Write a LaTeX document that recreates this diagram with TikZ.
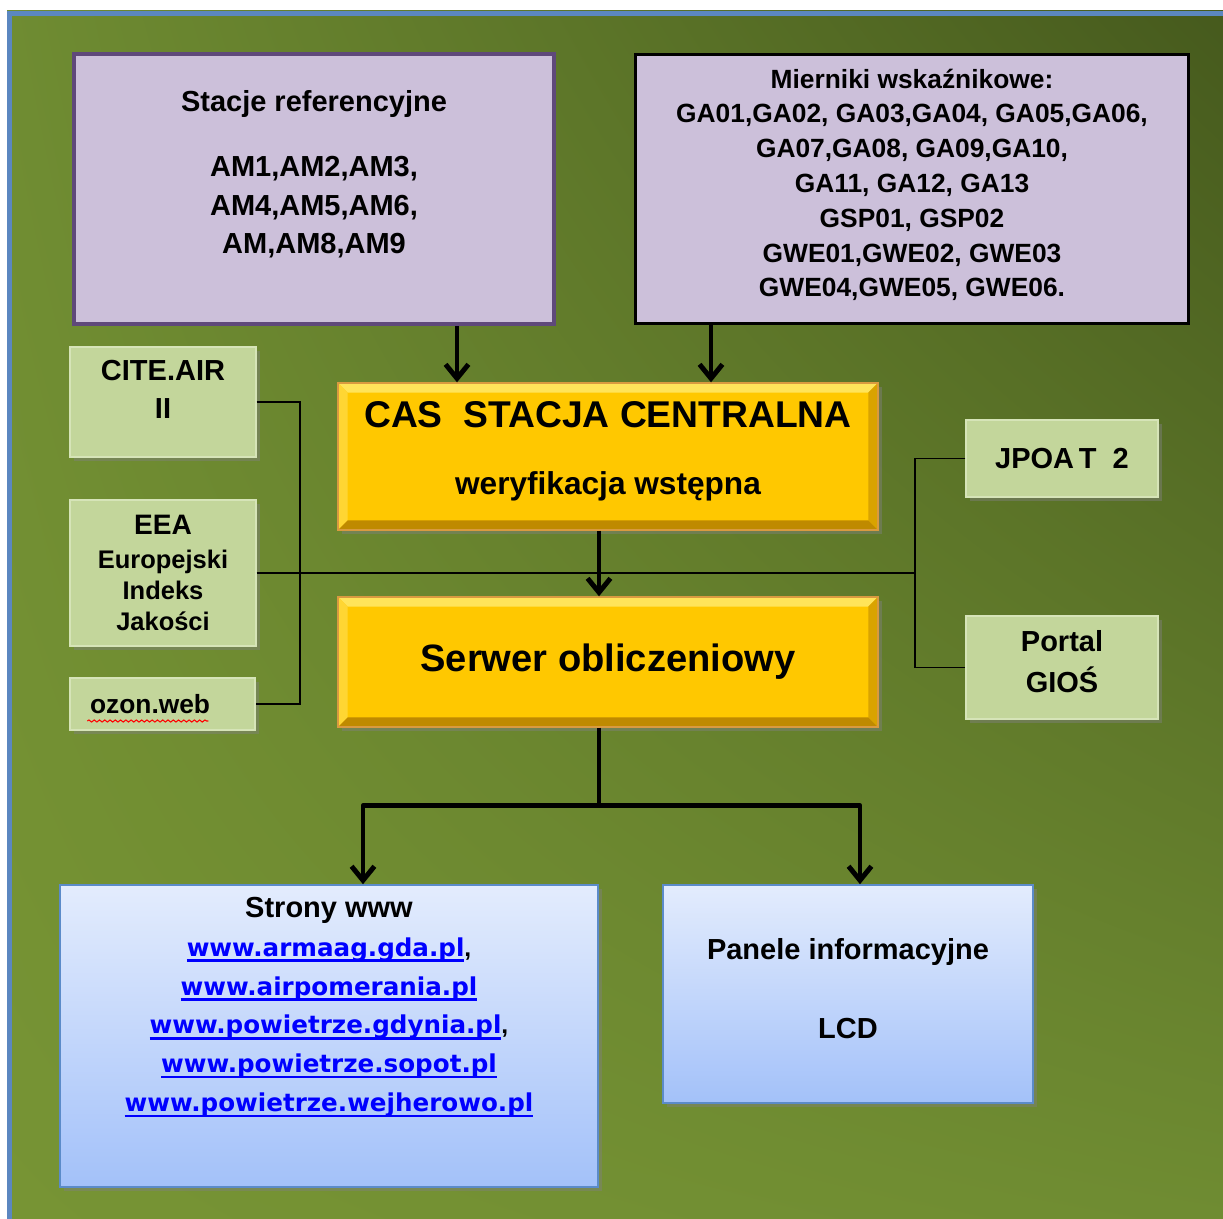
\documentclass[tikz,border=0pt]{standalone}
\usepackage{fontspec}
\setmainfont{Liberation Sans}
\newfontfamily\linkfont{DejaVu Sans}
\usetikzlibrary{positioning, arrows.meta, shadows, shadings, decorations.pathmorphing}

\definecolor{frameblue}{HTML}{5B87C0}
\definecolor{fieldlight}{HTML}{6F8C32}
\definecolor{fieldlow}{HTML}{779434}
\definecolor{fielddark}{HTML}{465A1D}
\definecolor{lavender}{HTML}{CCC0DA}
\definecolor{lavenderedge}{HTML}{5F497A}
\definecolor{sage}{HTML}{C3D69B}
\definecolor{sageedge}{HTML}{D6E4B8}
\definecolor{gold}{HTML}{FFC800}
\definecolor{goldedge}{HTML}{D99A40}
\definecolor{goldtop}{HTML}{FFE45A}
\definecolor{goldleft}{HTML}{FFD633}
\definecolor{goldright}{HTML}{D9A300}
\definecolor{goldbottom}{HTML}{BF8A00}
\definecolor{skytop}{HTML}{E3ECFD}
\definecolor{skybottom}{HTML}{A3C1F9}
\definecolor{skyedge}{HTML}{5B8BC9}
\definecolor{linkblue}{HTML}{0000FF}

\newcommand{\wwwlink}[1]{{\linkfont\bfseries\color{linkblue}\setbox0\hbox{#1}\rlap{\rule[-3.2pt]{\wd0}{1.5pt}}\box0}}

\begin{document}
\begin{tikzpicture}[
		x=0.02cm, y=-0.02cm,
		>={Straight Barb[length=8pt,width=13pt]},
		flow/.style={->, line width=2.8pt, line join=round},
		bus/.style={line width=1.1pt},
		listbox/.style={draw, fill=lavender, align=center, inner sep=0pt, font=\bfseries\fontsize{16.5}{22}\selectfont},
		sidebox/.style={draw=sageedge, line width=0.8pt, fill=sage, align=center, inner sep=0pt,
			font=\bfseries\fontsize{16.5}{21.5}\selectfont,
			drop shadow={opacity=0.45, shadow xshift=2.5pt, shadow yshift=-2.5pt}},
		corebox/.style={draw=goldedge, line width=0.8pt, fill=gold, align=center, inner sep=0pt,
			minimum width=10.8cm,
			drop shadow={opacity=0.45, shadow xshift=2.5pt, shadow yshift=-2.5pt},
			path picture={
				\def\pb{path picture bounding box}
				\fill[goldtop] (\pb.north west) -- (\pb.north east) -- ([xshift=-5.5pt,yshift=-5.5pt]\pb.north east) -- ([xshift=5.5pt,yshift=-5.5pt]\pb.north west) -- cycle;
				\fill[goldleft] (\pb.north west) -- ([xshift=5.5pt,yshift=-5.5pt]\pb.north west) -- ([xshift=5.5pt,yshift=5.5pt]\pb.south west) -- (\pb.south west) -- cycle;
				\fill[goldright] (\pb.north east) -- ([xshift=-5.5pt,yshift=-5.5pt]\pb.north east) -- ([xshift=-5.5pt,yshift=5.5pt]\pb.south east) -- (\pb.south east) -- cycle;
				\fill[goldbottom] (\pb.south west) -- ([xshift=5.5pt,yshift=5.5pt]\pb.south west) -- ([xshift=-5.5pt,yshift=5.5pt]\pb.south east) -- (\pb.south east) -- cycle;
			}},
		outbox/.style={draw=skyedge, line width=0.9pt, top color=skytop, bottom color=skybottom, align=center, inner sep=0pt,
			font=\bfseries\fontsize{16.5}{20}\selectfont,
			drop shadow={opacity=0.45, shadow xshift=2.5pt, shadow yshift=-2.5pt}}
		]
		\useasboundingbox (0,0) rectangle (1223,1219);
		\clip (0,0) rectangle (1223,1219);
		
		% --- background panel ---
		\shade[upper left=fieldlight, upper right=fielddark, lower left=fieldlow, lower right=fieldlight] (7,11) rectangle (1223,1219);
		\draw[frameblue, line width=2.8pt] (9.5,1219) -- (9.5,13.5) -- (1223,13.5);
		
		% --- measuring stations ---
		\node[listbox, draw=lavenderedge, line width=2.3pt, minimum width=9.6cm, minimum height=5.4cm, text depth=19pt] (stacje) at (314,189)
			{Stacje referencyjne\\[14.8pt]AM1,AM2,AM3,\\AM4,AM5,AM6,\\AM,AM8,AM9};
		\node[listbox, line width=1.7pt, minimum width=11.06cm, minimum height=5.38cm, text depth=7pt,
			font=\bfseries\fontsize{15}{19.8}\selectfont] (mierniki) at (912,189)
			{Mierniki wskaźnikowe:\\GA01,GA02, GA03,GA04, GA05,GA06,\\GA07,GA08, GA09,GA10,\\GA11, GA12, GA13\\GSP01, GSP02\\GWE01,GWE02, GWE03\\GWE04,GWE05, GWE06.};
		
		% --- central station and server ---
		\node[corebox, minimum height=2.94cm, text depth=10pt, font=\bfseries\fontsize{18}{21}\selectfont] (cas) at (608,456.5)
			{{\fontsize{21.2}{25}\selectfont CAS~~STACJA CENTRALNA}\\[17pt]weryfikacja wstępna};
		\node[corebox, minimum height=2.6cm, font=\bfseries\fontsize{21.7}{26}\selectfont] (serwer) at (608,662) {Serwer obliczeniowy};
		
		% --- side services ---
		\node[sidebox, minimum width=3.72cm, minimum height=2.2cm, text depth=14pt] (cite) at (163,402) {CITE.AIR\\II};
		\node[sidebox, minimum width=3.72cm, minimum height=2.92cm, font=\bfseries\fontsize{14.5}{17.6}\selectfont] (eea) at (163,573)
			{{\fontsize{16}{19}\selectfont EEA}\\[2pt]Europejski\\Indeks\\Jakości};
		\node[sidebox, minimum width=3.7cm, minimum height=1.04cm, font=\bfseries\fontsize{15}{18}\selectfont] (ozon) at (162.5,704)
			{\makebox[2.9cm][l]{ozon.web}};
		\node[sidebox, minimum width=3.84cm, minimum height=1.54cm] (jpoat) at (1062,458.5) {JPOA\,T~~2};
		\node[sidebox, minimum width=3.84cm, minimum height=2.06cm, text depth=7pt, font=\bfseries\fontsize{16.5}{23.2}\selectfont] (portal) at (1062,667.5)
			{Portal\\GIOŚ};
		\draw[red, line width=0.6pt, decorate, decoration={snake, amplitude=0.6pt, segment length=3pt}]
			([shift={(18,17)}]ozon.west) -- ([shift={(139,17)}]ozon.west);
		
		% --- outputs ---
		\node[outbox, minimum width=10.76cm, minimum height=6.04cm, text depth=36pt, font=\bfseries\fontsize{14}{22.1}\selectfont] (strony) at (329,1036)
			{{\fontsize{16.5}{20}\selectfont Strony www}\\
			\wwwlink{www.armaag.gda.pl},\\
			\wwwlink{www.airpomerania.pl}\\
			\wwwlink{www.powietrze.gdynia.pl},\\
			\wwwlink{www.powietrze.sopot.pl}\\
			\wwwlink{www.powietrze.wejherowo.pl}};
		\node[outbox, minimum width=7.4cm, minimum height=4.36cm, text depth=6pt] (panele) at (848,994)
			{Panele informacyjne\\[25pt]LCD};
		
		% --- thin links to side services ---
		\coordinate (westbus) at (300,568);
		\coordinate (eastbus) at (915,568);
		\draw[bus] (cite.east) -| (westbus) |- (ozon.east);
		\draw[bus] (eea.east) -- (eea.east -| eastbus);
		\draw[bus] (jpoat.west) -| (eastbus) |- (portal.west);
		
		% --- data flow ---
		\coordinate (refdrop) at ([shift={(143,0)}]stacje.south);
		\coordinate (gadrop) at ([shift={(-201,0)}]mierniki.south);
		\coordinate (casdrop) at ([shift={(-9,0)}]cas.south);
		\coordinate (servdrop) at ([shift={(-9,0)}]serwer.south);
		\coordinate (split) at ([shift={(0,78)}]servdrop);
		\coordinate (wwwdrop) at ([shift={(34,0)}]strony.north);
		\coordinate (lcddrop) at ([shift={(12,0)}]panele.north);
		
		\draw[flow] (refdrop) -- (refdrop |- cas.north);
		\draw[flow] (gadrop) -- (gadrop |- cas.north);
		\draw[flow] (casdrop) -- (casdrop |- serwer.north);
		\draw[flow] (servdrop) -- (split) -| (wwwdrop);
		\draw[flow] (split) -| (lcddrop);
		
	\end{tikzpicture}
\end{document}
